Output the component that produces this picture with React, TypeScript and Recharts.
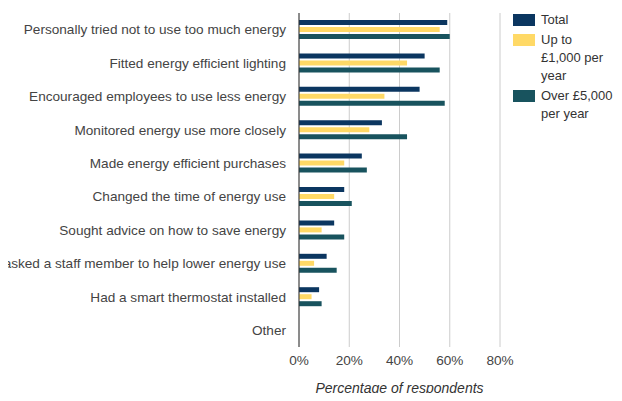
import { BarChart, Bar, XAxis, YAxis, CartesianGrid } from 'recharts'

const categories = [
  'Personally tried not to use too much energy',
  'Fitted energy efficient lighting',
  'Encouraged employees to use less energy',
  'Monitored energy use more closely',
  'Made energy efficient purchases',
  'Changed the time of energy use',
  'Sought advice on how to save energy',
  'Tasked a staff member to help lower energy use',
  'Had a smart thermostat installed',
  'Other',
]

const totalValues = [59, 50, 48, 33, 25, 18, 14, 11, 8, 0]
const upTo1000Values = [56, 43, 34, 28, 18, 14, 9, 6, 5, 0]
const over5000Values = [60, 56, 58, 43, 27, 21, 18, 15, 9, 0]

const xTicks = [0, 20, 40, 60, 80]

const series = [
  { key: 'total', name: 'Total', lines: ['Total'], color: '#0b3660' },
  { key: 'upTo1000', name: 'Up to £1,000 per year', lines: ['Up to', '£1,000 per', 'year'], color: '#ffd966' },
  { key: 'over5000', name: 'Over £5,000 per year', lines: ['Over £5,000', 'per year'], color: '#18535e' },
]

const data = categories.map((name, i) => ({
  name,
  total: totalValues[i],
  upTo1000: upTo1000Values[i],
  over5000: over5000Values[i],
}))

const font = '"Liberation Sans", Arial, sans-serif'

// single-line category label, no wrapping (long ones get cut at the left edge)
function CategoryTick(props: any) {
  const { x, y, payload } = props
  return (
    <text x={x} y={y} dy="0.35em" textAnchor="end" fill="#444" fontSize={13.6} fontFamily={font}>
      {payload.value}
    </text>
  )
}

function LegendBox() {
  return (
    <div style={{ position: 'absolute', left: 513, top: 14, fontFamily: font, fontSize: 13, color: '#333' }}>
      {series.map((s) => (
        <div key={s.key} style={{ display: 'flex', alignItems: 'flex-start', marginBottom: 5 }}>
          <div style={{ width: 22, height: 12, background: s.color, marginRight: 6, flexShrink: 0 }} />
          <div style={{ lineHeight: '18px', marginTop: -3 }}>
            {s.lines.map((l) => (
              <div key={l}>{l}</div>
            ))}
          </div>
        </div>
      ))}
    </div>
  )
}

export default function App() {
  return (
    <div style={{ position: 'relative', width: 622, height: 401, margin: -8, background: '#fff' }}>
      <BarChart
        width={622}
        height={401}
        data={data}
        layout="vertical"
        margin={{ top: 13, right: 122, bottom: 0, left: 0 }}
        barSize={5}
        barGap={2}
      >
        <CartesianGrid horizontal={false} stroke="#cccccc" />
        <XAxis
          type="number"
          domain={[0, 80]}
          ticks={xTicks}
          tickFormatter={(v) => `${v}%`}
          axisLine={false}
          tickLine={false}
          tickSize={0}
          tickMargin={8}
          height={54}
          tick={{ fill: '#444', fontSize: 13.6, fontFamily: font }}
          label={{
            value: 'Percentage of respondents',
            position: 'insideBottom',
            offset: 8,
            fill: '#333',
            fontSize: 14,
            fontStyle: 'italic',
            fontFamily: font,
          }}
        />
        <YAxis
          type="category"
          dataKey="name"
          width={299}
          axisLine={{ stroke: '#333' }}
          tickLine={false}
          tickSize={0}
          tickMargin={13}
          interval={0}
          tick={<CategoryTick />}
        />
        {series.map((s) => (
          <Bar key={s.key} dataKey={s.key} name={s.name} fill={s.color} isAnimationActive={false} />
        ))}
      </BarChart>
      <LegendBox />
    </div>
  )
}
